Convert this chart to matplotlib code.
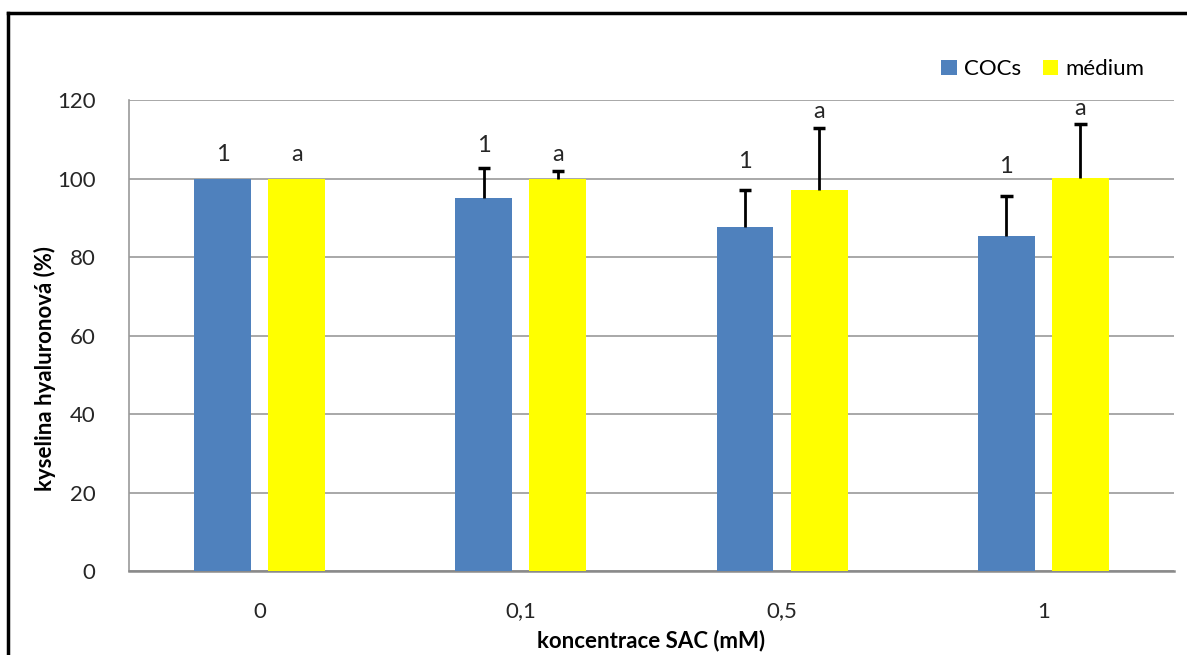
import matplotlib
matplotlib.use("Agg")
import matplotlib.pyplot as plt
import numpy as np
from matplotlib.lines import Line2D

categories = ["0", "0,1", "0,5", "1"]
cocs = [100, 95, 87.6, 85.4]
cocs_err = [0, 7.8, 9.5, 10.1]
medium = [100, 100, 97.1, 100.1]
medium_err = [0, 1.9, 15.8, 13.8]
cocs_labels = ["1", "1", "1", "1"]
medium_labels = ["a", "a", "a", "a"]
cocs_label_y = [104.5, 106.8, 102.7, 101.4]
medium_label_y = [104.5, 104.5, 115.4, 116.2]
yticks = [0, 20, 40, 60, 80, 100, 120]

plt.rcParams['font.family'] = ['Lato', 'DejaVu Sans']

fig = plt.figure(figsize=(11.87, 6.55), dpi=100)
ax = fig.add_axes([0.1087, 0.1282, 0.989 - 0.1087, 0.8473 - 0.1282])

x = np.arange(len(categories))
w = 0.218
off = 0.142
cap = 0.024
blue = "#4f81bd"
yellow = "#ffff00"

ax.bar(x - off, cocs, w, color=blue, zorder=3, label="COCs")
ax.bar(x + off, medium, w, color=yellow, zorder=3, label="médium")


def upper_err(xs, vals, errs):
    for xi, v, e in zip(xs, vals, errs):
        if e <= 0:
            continue
        ax.vlines(xi, v, v + e, color='black', linewidth=2, zorder=4)
        ax.hlines(v + e, xi - cap, xi + cap, color='black', linewidth=2.5, zorder=4)


upper_err(x - off, cocs, cocs_err)
upper_err(x + off, medium, medium_err)

for i in range(len(x)):
    ax.text(x[i] - off, cocs_label_y[i], cocs_labels[i], ha='center', va='baseline',
            fontsize=17, color='#262626')
    ax.text(x[i] + off, medium_label_y[i], medium_labels[i], ha='center', va='baseline',
            fontsize=17, color='#262626')

ax.set_xlim(-0.5, len(x) - 0.5)
ax.set_ylim(0, 120)
ax.set_yticks(yticks)
ax.set_xticks(x)
ax.set_xticklabels(categories)
ax.tick_params(axis='both', length=0, labelsize=16, labelcolor='#262626')
ax.tick_params(axis='y', pad=24)
ax.tick_params(axis='x', pad=22)
ax.grid(axis='y', color='#9a9a9a', linewidth=1.2, zorder=0)
ax.set_axisbelow(True)
for s in ['top', 'right']:
    ax.spines[s].set_visible(False)
ax.spines['left'].set_color('#9a9a9a')
ax.spines['bottom'].set_color('#8a8a8a')
ax.spines['bottom'].set_linewidth(1.8)
ax.spines['left'].set_linewidth(1.2)

ax.set_xlabel("koncentrace SAC (mM)", fontsize=16, fontweight='bold', labelpad=6)
ax.set_ylabel("kyselina hyaluronová (%)", fontsize=16, fontweight='bold')
ax.yaxis.set_label_coords(-0.070, 0.43)

leg = ax.legend(loc='lower right', bbox_to_anchor=(0.98, 1.025), ncol=2, frameon=False,
                fontsize=16, handlelength=0.7, handleheight=0.7, handletextpad=0.3,
                columnspacing=1.0, borderaxespad=0)

# outer border
fig.add_artist(Line2D([8/1187, 8/1187], [0, 1 - 13/655], transform=fig.transFigure,
                      color='black', linewidth=2.5))
fig.add_artist(Line2D([8/1187, 1], [1 - 13/655, 1 - 13/655], transform=fig.transFigure,
                      color='black', linewidth=2.5))

fig.savefig("out.png", dpi=100)
